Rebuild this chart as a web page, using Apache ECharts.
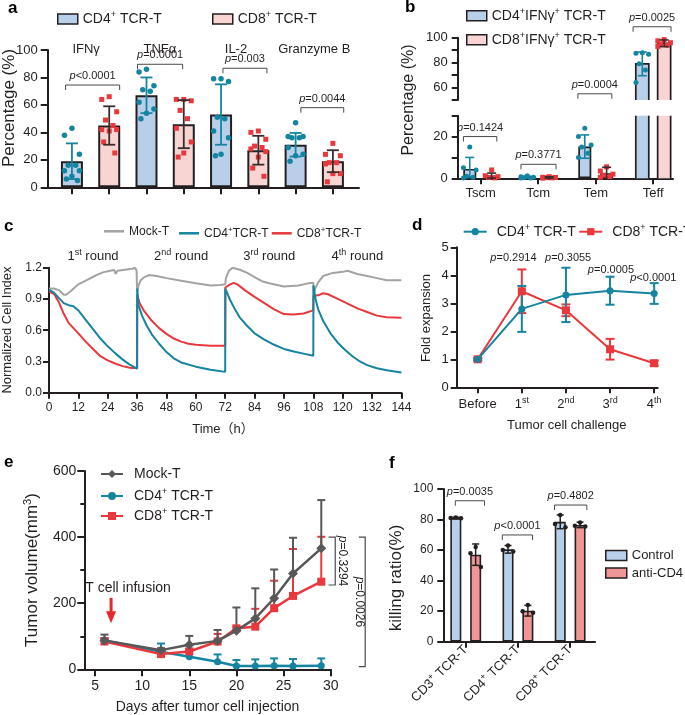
<!DOCTYPE html>
<html>
<head>
<meta charset="utf-8">
<title>Figure</title>
<script src="https://cdn.jsdelivr.net/npm/echarts@6.0.0/dist/echarts.min.js"></script>
<style>
html,body{margin:0;padding:0;background:#ffffff;}
#chart{width:685px;height:715px;}
</style>
</head>
<body>
<div id="chart"></div>
<script>
// ======================= DATA =======================
// Panel a
const aCategories = ['IFNγ', 'TNFα', 'IL-2', 'Granzyme B'];
const aCD4Mean = [19, 67, 53, 31];
const aCD4SD = [13, 13, 22, 8.6];
const aCD8Mean = [45, 46, 27, 19];
const aCD8SD = [14, 17.5, 10.5, 8];
const aCD4Dots = [[43, 38, 24, 16, 16, 12, 12, 8, 6, 5], [86, 84, 74, 71, 70, 62, 57, 54, 50], [79, 79, 77, 51, 50, 41, 36, 24, 23], [47, 37, 37, 36, 36, 29, 24, 23, 19]];
const aCD8Dots = [[66, 64, 55, 49, 45, 42, 42, 41, 33, 25], [64, 64, 63, 56, 50, 43, 33, 25, 22], [41, 40, 35, 30, 29, 28, 26, 22, 14, 8], [32, 24, 23, 18, 18, 17, 10, 10, 4]];
const aPValues = ['p<0.0001', 'p=0.0001', 'p=0.003', 'p=0.0044'];
const aPHeight = [74.5, 89.6, 86.7, 58];

// Panel b
const bCategories = ['Tscm', 'Tcm', 'Tem', 'Teff'];
const bCD4Mean = [4.5, 0.5, 15.2, 79];
const bCD4SD = [5.5, 0.4, 5.6, 9.5];
const bCD8Mean = [1.3, 0.4, 2.4, 95.5];
const bCD8SD = [1.2, 0.3, 2.9, 2.7];
const bCD4Dots = [[15, 5, 4, 1, 0.5, 0.2], [1.2, 0.8, 0.5, 0.3, 0.2, 0.1], [24, 20, 16, 15, 12, 10], [88, 87.5, 86.8, 79, 74, 64]];
const bCD8Dots = [[4, 1.2, 0.8, 0.4, 0.2], [0.8, 0.5, 0.4, 0.3, 0.2, 0.1], [5.5, 3.5, 2, 1.5, 0.8, 0.5], [98.5, 97.5, 96, 95, 94, 93]];
const bPValues = ['p=0.1424', 'p=0.3771', 'p=0.0004', 'p=0.0025'];
const bPHeight = [20, 6.7, 55, 108.8];

// Panel c (time in h, normalized cell index)
const cMock = [[0,1.00],[2,1.00],[4,0.985],[6,0.94],[7,0.94],[8.6,0.97],[12,1.04],[15.4,1.08],[19.5,1.13],[22,1.155],[25,1.17],[26.7,1.178],[27.2,1.14],[28,1.17],[31,1.18],[34,1.19],[35.2,1.2],[35.8,1.17],[36,0.97],[36.6,1.03],[37.5,1.08],[39,1.11],[41,1.13],[44,1.12],[48,1.10],[54,1.075],[60,1.05],[66,1.03],[70,1.035],[72,1.04],[72.3,1.10],[73.5,1.17],[75,1.20],[78,1.18],[81,1.15],[84,1.11],[87,1.07],[90,1.05],[96,1.02],[102,1.03],[106,1.05],[108,1.055],[108.2,0.96],[109,1.01],[110,1.06],[112,1.12],[116,1.15],[120,1.16],[122,1.17],[126,1.14],[130,1.12],[134,1.10],[138,1.08],[144,1.08]];
const cCD4 = [[0,0.99],[2,0.96],[4,0.91],[6,0.86],[8,0.84],[10,0.83],[12,0.79],[15,0.70],[18,0.61],[21,0.52],[24,0.445],[27,0.38],[30,0.32],[33,0.27],[36,0.23],[36.05,1.0],[36.6,0.84],[38,0.74],[40,0.64],[42,0.56],[45,0.47],[48,0.39],[51,0.33],[54,0.29],[60,0.25],[66,0.22],[72,0.2],[72.05,1.0],[74,0.89],[76,0.80],[78,0.72],[81,0.64],[84,0.57],[88,0.51],[92,0.46],[96,0.42],[100,0.395],[104,0.375],[108,0.355],[108.05,1.03],[109,0.89],[110,0.80],[112,0.69],[115,0.57],[118,0.48],[121,0.41],[124,0.35],[127,0.30],[130,0.265],[134,0.235],[138,0.215],[144,0.195]];
const cCD8 = [[0,0.97],[2,0.95],[4,0.87],[6,0.76],[8,0.67],[10,0.62],[12,0.57],[15,0.49],[18,0.42],[21,0.35],[24,0.31],[27,0.28],[30,0.255],[33,0.24],[36,0.235],[36.05,0.94],[37,0.86],[39,0.78],[42,0.69],[45,0.62],[48,0.565],[51,0.52],[54,0.49],[57,0.47],[60,0.46],[66,0.45],[72,0.45],[72.05,1.01],[74,1.04],[75.5,1.055],[77,1.04],[80,0.985],[84,0.92],[88,0.86],[92,0.80],[96,0.755],[100,0.75],[104,0.76],[108,0.79],[108.05,0.93],[110,0.935],[112,0.955],[114,0.945],[118,0.90],[122,0.855],[126,0.81],[130,0.775],[134,0.74],[138,0.725],[144,0.72]];
const cRounds = ['1st round', '2nd round', '3rd round', '4th round'];

// Panel d
const dCategories = ['Before', '1st', '2nd', '3rd', '4th'];
const dCD4Mean = [1.0, 2.8, 3.3, 3.45, 3.35];
const dCD4SD = [0.04, 0.82, 0.97, 0.5, 0.37];
const dCD8Mean = [1.0, 3.43, 2.75, 1.36, 0.86];
const dCD8SD = [0.04, 0.78, 0.21, 0.37, 0.09];
const dPValues = ['p=0.2914', 'p=0.3055', 'p=0.0005', 'p<0.0001'];

// Panel e
const eDays = [6, 12, 15, 18, 20, 22, 24, 26, 29];
const eMock = [87, 58, 74, 86, 117, 154, 215, 290, 366];
const eMockErr = [18, 6, 27, 33, 70, 91, 87, 108, 146];
const eCD4 = [87, 53, 38, 23, 10, 10, 11, 10, 11];
const eCD4Err = [6, 25, 20, 22, 18, 20, 22, 21, 22];
const eCD8 = [84, 46, 54, 84, 124, 129, 185, 222, 265];
const eCD8Err = [10, 6, 8, 23, 5, 54, 83, 142, 136];
const ePValues = ['p=0.3294', 'p=0.0026'];

// Panel f
const fCategories = ['CD3⁺ TCR-T', 'CD4⁺ TCR-T', 'CD8⁺ TCR-T'];
const fCtrlMean = [81, 60.5, 78.5];
const fCtrlSD = [0.5, 2.5, 4.5];
const fAntiMean = [57, 20.3, 76.5];
const fAntiSD = [7, 3.5, 1.8];
const fCtrlDots = [[81.3, 81, 80.8], [63, 60, 59], [83, 77, 75]];
const fAntiDots = [[62, 58, 49], [24, 20, 19], [78, 76, 75.5]];
const fPValues = ['p=0.0035', 'p<0.0001', 'p=0.4802'];
const fPHeight = [92.3, 69.9, 89.5];

// ======================= STYLE =======================
const FONT = "'Liberation Sans', Arial, Helvetica, 'Noto Sans CJK SC', sans-serif";
const INK = '#231f20';
const TEAL = '#1484a0';
const RED = '#e8383d';
const BLUE_FILL = '#b7cfe8';
const PINK_FILL = '#f8d4d3';
const ANTI_FILL = '#f09696';
const GRAY = '#a3a3a3';
const MOCK = '#585858';
const DARK_ERR = '#3a2c2c';
const BRK = '#4a4a4a';
const JIT = [0, -0.2, 0.2, -0.1, 0.1, -0.2, 0.2, 0, -0.15, 0.15];

// ---------- rich text helpers ----------
function richSet(fs) {
  const sfs = Math.round(fs * 0.66);
  const base = {fontSize: fs, lineHeight: fs + 4, fontFamily: FONT, color: INK, fill: INK};
  return {
    m: base,
    s: {fontSize: sfs, lineHeight: sfs, verticalAlign: 'top', fontFamily: FONT, color: INK, fill: INK},
    i: Object.assign({}, base, {fontStyle: 'italic'})
  };
}
function R(str) {
  let out = '', buf = '';
  const flush = () => { if (buf) { out += '{m|' + buf + '}'; buf = ''; } };
  for (const ch of str) {
    if (ch === '⁺') { flush(); out += '{s|+}'; }
    else if (ch === '³') { flush(); out += '{s|3}'; }
    else buf += ch;
  }
  flush();
  return out;
}
function P(str) { return '{i|p}' + R(str.slice(1)); }
function O(str) {
  const m = /^(\d+)(st|nd|rd|th)(.*)$/.exec(str);
  if (!m) return R(str);
  return '{m|' + m[1] + '}{s|' + m[2] + '}' + (m[3] ? '{m|' + m[3] + '}' : '');
}

// ---------- axes ----------
function axis(o) {
  const ax = {
    type: 'value', gridIndex: o.g, min: o.min, max: o.max,
    show: o.show !== false,
    axisLine: {show: true, onZero: false, lineStyle: {color: INK, width: o.lw || 2}},
    axisTick: {show: o.tick !== false, length: o.tl || 6, inside: false, lineStyle: {color: INK, width: o.lw || 2}},
    axisLabel: {show: o.label !== false, color: INK, fontFamily: FONT, fontSize: o.fs || 13, margin: o.margin || 8, hideOverlap: false},
    splitLine: {show: false}, minorTick: {show: false}, minorSplitLine: {show: false}
  };
  if (o.interval !== undefined) ax.interval = o.interval;
  if (o.ticks) { ax.axisTick.customValues = o.ticks; ax.axisLabel.customValues = o.ticks; }
  if (o.formatter) ax.axisLabel.formatter = o.formatter;
  if (o.rich) ax.axisLabel.rich = o.rich;
  if (o.rotate) ax.axisLabel.rotate = o.rotate;
  if (o.minor) ax.minorTick = {show: true, splitNumber: o.minor, length: 4, lineStyle: {color: INK, width: 2}};
  return ax;
}

// ---------- series builders ----------
function bar(name, ax, data, fill, bw, bdw) {
  return {type: 'bar', name, xAxisIndex: ax, yAxisIndex: ax, data, barWidth: bw, barGap: '-100%',
    itemStyle: {color: fill, borderColor: INK, borderWidth: bdw}, z: 2, silent: true, emphasis: {disabled: true}};
}
// bar crossing an axis break: open on the side(s) where it is cut
function brokenBar(ax, data, fill, bw, bdw, yLo, yHi) {
  return {type: 'custom', xAxisIndex: ax, yAxisIndex: ax, data, encode: {x: 0, y: 1}, z: 2, silent: true, clip: false,
    renderItem: function (params, api) {
      const x = api.value(0), v = api.value(1);
      const top = Math.min(v, yHi), cutTop = v > yHi;
      const pt = api.coord([x, top]), pb = api.coord([x, yLo]);
      const l = pt[0] - bw / 2, r = pt[0] + bw / 2;
      const st = () => ({stroke: INK, lineWidth: bdw, fill: 'none'});
      const ch = [{type: 'rect', shape: {x: l, y: pt[1], width: bw, height: pb[1] - pt[1]}, style: {fill: fill}}];
      if (cutTop) {
        ch.push({type: 'line', shape: {x1: l, y1: pt[1], x2: l, y2: pb[1]}, style: st()});
        ch.push({type: 'line', shape: {x1: r, y1: pt[1], x2: r, y2: pb[1]}, style: st()});
      } else {
        ch.push({type: 'polyline', shape: {points: [[l, pb[1]], [l, pt[1]], [r, pt[1]], [r, pb[1]]]}, style: st()});
      }
      return {type: 'group', children: ch};
    }};
}
function dotData(groups, xOf, scale, keep) {
  const out = [];
  groups.forEach((g, i) => g.forEach((v, j) => { if (!keep || keep(v)) out.push([xOf(i) + JIT[j % JIT.length] * scale, v]); }));
  return out;
}
function dots(ax, data, sym, size, color) {
  return {type: 'scatter', xAxisIndex: ax, yAxisIndex: ax, data, symbol: sym, symbolSize: size,
    itemStyle: {color, opacity: 1}, z: 3, silent: true, emphasis: {disabled: true}};
}
function errRender(color, cap, lw, upperOnly) {
  return function (params, api) {
    const x = api.value(0), m = api.value(1), s = api.value(2);
    const lo = upperOnly ? m : Math.max(0, m - s);
    const pt = api.coord([x, m + s]), pb = api.coord([x, lo]);
    const st = () => ({stroke: color, lineWidth: lw, fill: 'none'});
    const ch = [
      {type: 'line', shape: {x1: pt[0], y1: pt[1], x2: pb[0], y2: pb[1]}, style: st()},
      {type: 'line', shape: {x1: pt[0] - cap, y1: pt[1], x2: pt[0] + cap, y2: pt[1]}, style: st()}
    ];
    if (!upperOnly && m - s > 0) ch.push({type: 'line', shape: {x1: pb[0] - cap, y1: pb[1], x2: pb[0] + cap, y2: pb[1]}, style: st()});
    return {type: 'group', children: ch};
  };
}
function err(ax, data, color, cap, lw, upper, z) {
  return {type: 'custom', xAxisIndex: ax, yAxisIndex: ax, data, encode: {x: 0, y: 1},
    renderItem: errRender(color, cap, lw, upper), z: z || 4, silent: true, clip: false};
}
function bracket(ax, data, labels, fs) {
  return {type: 'custom', xAxisIndex: ax, yAxisIndex: ax, data, encode: {x: [0, 1], y: 2}, z: 5, silent: true, clip: false,
    renderItem: function (params, api) {
      const p1 = api.coord([api.value(0), api.value(2)]), p2 = api.coord([api.value(1), api.value(2)]);
      const leg = 5;
      return {type: 'group', children: [
        {type: 'polyline', shape: {points: [[p1[0], p1[1] + leg], [p1[0], p1[1]], [p2[0], p2[1]], [p2[0], p2[1] + leg]]},
          style: {stroke: BRK, lineWidth: 1, fill: 'none'}},
        {type: 'text', x: (p1[0] + p2[0]) / 2, y: p1[1] - 1.5,
          style: {text: P(labels[params.dataIndex]), rich: richSet(fs), align: 'center', verticalAlign: 'bottom',
            textAlign: 'center', textVerticalAlign: 'bottom', fill: INK}}
      ]};
    }};
}
function textSeries(ax, data, labels, fs, conv, opts) {
  opts = opts || {};
  return {type: 'custom', xAxisIndex: ax, yAxisIndex: ax, data, encode: {x: 0, y: 1}, z: 6, silent: true, clip: false,
    renderItem: function (params, api) {
      const p = api.coord([api.value(0), api.value(1)]);
      return {type: 'text', x: p[0], y: p[1], rotation: opts.rot || 0,
        style: {text: conv(labels[params.dataIndex]), rich: richSet(fs), align: opts.align || 'center', verticalAlign: 'middle',
          textAlign: opts.align || 'center', textVerticalAlign: 'middle', fill: INK}};
    }};
}

// ======================= LAYOUT =======================
const grids = [
  {left: 47.7, top: 50, width: 311.3, height: 137.3},     // a
  {left: 457.7, top: 37.7, width: 215.3, height: 62.3},   // b upper
  {left: 457.7, top: 115.7, width: 215.3, height: 62.6},  // b lower
  {left: 49, top: 267.7, width: 352.4, height: 125},      // c
  {left: 456.7, top: 247.3, width: 201, height: 140},     // d
  {left: 84.3, top: 471, width: 246.4, height: 198.3},    // e
  {left: 443.3, top: 489, width: 151.7, height: 152.7}    // f
].map(g => Object.assign({containLabel: false, outerBoundsMode: 'none'}, g));

const B_UP = [50, 100], B_LOW = [0, 30];
const xAxes = [
  axis({g: 0, min: -0.65, max: 7.70, ticks: [0, 1, 2, 3, 4, 5, 6, 7], label: false, tl: 7}),
  axis({g: 1, min: -0.4, max: 3.344, show: false}),
  axis({g: 2, min: -0.4, max: 3.344, ticks: [0, 1, 2, 3], tl: 6, fs: 13, margin: 9, formatter: v => bCategories[Math.round(v)]}),
  axis({g: 3, min: 0, max: 144, interval: 12, fs: 12, margin: 9, tl: 6}),
  axis({g: 4, min: -0.476, max: 4.08, ticks: [0, 1, 2, 3, 4], tl: 6, fs: 13, margin: 9, rich: richSet(13), formatter: v => O(dCategories[Math.round(v)])}),
  axis({g: 5, min: 3.86, max: 30, ticks: [5, 10, 15, 20, 25, 30], tl: 7, fs: 14, margin: 10}),
  axis({g: 6, min: -0.43, max: 2.476, ticks: [0, 1, 2], tl: 6, fs: 13, margin: 6, rotate: 45, rich: richSet(13), formatter: v => R(fCategories[Math.round(v)])})
];
const yAxes = [
  axis({g: 0, min: 0, max: 100, interval: 20, fs: 13, margin: 10, tl: 7}),
  axis({g: 1, min: B_UP[0], max: B_UP[1], interval: 10, fs: 13, margin: 10, tl: 6, formatter: v => (v % 20 === 0 && v > 50) ? String(v) : ''}),
  axis({g: 2, min: B_LOW[0], max: B_LOW[1], interval: 10, fs: 13, margin: 10, tl: 6, formatter: v => (v % 20 === 0) ? String(v) : ''}),
  axis({g: 3, min: 0, max: 1.2, interval: 0.3, fs: 12, margin: 7, tl: 6, formatter: v => v.toFixed(1)}),
  axis({g: 4, min: 0, max: 5, interval: 1, fs: 13, margin: 8, tl: 6}),
  axis({g: 5, min: 0, max: 600, interval: 200, fs: 14, margin: 8, tl: 7, minor: 2}),
  axis({g: 6, min: 0, max: 100, interval: 20, fs: 12, margin: 10, tl: 6})
];

// ======================= SERIES =======================
const series = [];
// ---- a ----
series.push(bar('aCD4', 0, aCD4Mean.map((v, i) => [2 * i, v]), BLUE_FILL, 22, 2));
series.push(bar('aCD8', 0, aCD8Mean.map((v, i) => [2 * i + 1, v]), PINK_FILL, 22, 2));
series.push(dots(0, dotData(aCD4Dots, i => 2 * i, 1), 'circle', 5.5, TEAL));
series.push(dots(0, dotData(aCD8Dots, i => 2 * i + 1, 1), 'rect', 5, RED));
series.push(err(0, aCD4Mean.map((v, i) => [2 * i, v, aCD4SD[i]]), TEAL, 6, 1.8, false));
series.push(err(0, aCD8Mean.map((v, i) => [2 * i + 1, v, aCD8SD[i]]), DARK_ERR, 6, 1.8, false));
const aBrkSpan = [[-0.17, 1.28], [1.76, 2.97], [4.05, 5.23], [6.14, 7.29]];
series.push(bracket(0, aPHeight.map((h, i) => [aBrkSpan[i][0], aBrkSpan[i][1], h]), aPValues, 11));
const aCatShift = [-0.12, -0.14, -0.1, 0];
series.push(textSeries(0, aCategories.map((c, i) => [2 * i + 0.5 + aCatShift[i], 100.7]), aCategories, 13, R));

// ---- b (broken y axis) ----
const bOff = 0.19;
const b4 = bCD4Mean.map((v, i) => [i - bOff, v]);
const b8 = bCD8Mean.map((v, i) => [i + bOff, v]);
series.push(bar('bCD4l', 2, b4.filter(d => d[1] <= B_LOW[1]), BLUE_FILL, 13, 1.7));
series.push(bar('bCD8l', 2, b8.filter(d => d[1] <= B_LOW[1]), PINK_FILL, 13, 1.7));
series.push(brokenBar(2, b4.filter(d => d[1] > B_LOW[1]), BLUE_FILL, 13, 1.7, B_LOW[0], B_LOW[1]));
series.push(brokenBar(2, b8.filter(d => d[1] > B_LOW[1]), PINK_FILL, 13, 1.7, B_LOW[0], B_LOW[1]));
series.push(brokenBar(1, b4.filter(d => d[1] > B_UP[0]), BLUE_FILL, 13, 1.7, B_UP[0], B_UP[1]));
series.push(brokenBar(1, b8.filter(d => d[1] > B_UP[0]), PINK_FILL, 13, 1.7, B_UP[0], B_UP[1]));
const isUp = v => v >= 40, isLow = v => v < 40;
series.push(dots(1, dotData(bCD4Dots, i => i - bOff, 0.55, isUp), 'circle', 5, TEAL));
series.push(dots(1, dotData(bCD8Dots, i => i + bOff, 0.55, isUp), 'rect', 5, RED));
series.push(dots(2, dotData(bCD4Dots, i => i - bOff, 0.55, isLow), 'circle', 5, TEAL));
series.push(dots(2, dotData(bCD8Dots, i => i + bOff, 0.55, isLow), 'rect', 5, RED));
const bErr4 = bCD4Mean.map((v, i) => [i - bOff, v, bCD4SD[i]]);
const bErr8 = bCD8Mean.map((v, i) => [i + bOff, v, bCD8SD[i]]);
series.push(err(1, bErr4.filter(d => d[1] >= 40), TEAL, 4.5, 1.6, false));
series.push(err(1, bErr8.filter(d => d[1] >= 40), DARK_ERR, 4.5, 1.6, false));
series.push(err(2, bErr4.filter(d => d[1] < 40), TEAL, 4.5, 1.6, false));
series.push(err(2, bErr8.filter(d => d[1] < 40), DARK_ERR, 4.5, 1.6, false));
const bBrkSpan = [[-0.3, 0.28], [-0.3, 0.31], [-0.31, 0.28], [-0.35, 0.31]];
const bBrk = bPHeight.map((h, i) => [i + bBrkSpan[i][0], i + bBrkSpan[i][1], h]);
series.push(bracket(2, bBrk.slice(0, 2), bPValues.slice(0, 2), 11));
series.push(bracket(1, bBrk.slice(2), bPValues.slice(2), 11));

// ---- c ----
series.push({type: 'line', name: 'cMock', xAxisIndex: 3, yAxisIndex: 3, data: cMock, symbol: 'none', lineStyle: {color: GRAY, width: 2}, itemStyle: {color: GRAY}, z: 2, silent: true});
series.push({type: 'line', name: 'cCD8', xAxisIndex: 3, yAxisIndex: 3, data: cCD8, symbol: 'none', lineStyle: {color: RED, width: 2}, itemStyle: {color: RED}, z: 3, silent: true});
series.push({type: 'line', name: 'cCD4', xAxisIndex: 3, yAxisIndex: 3, data: cCD4, symbol: 'none', lineStyle: {color: TEAL, width: 2}, itemStyle: {color: TEAL}, z: 4, silent: true});
series.push(textSeries(3, cRounds.map((r, i) => [18 + 36 * i, 1.305]), cRounds, 13, O));

// ---- d ----
series.push(err(4, dCD8Mean.map((v, i) => [i, v, dCD8SD[i]]), RED, 4.5, 2, false, 2));
series.push(err(4, dCD4Mean.map((v, i) => [i, v, dCD4SD[i]]), TEAL, 4.5, 2, false, 2));
series.push({type: 'line', name: 'dCD8', xAxisIndex: 4, yAxisIndex: 4, data: dCD8Mean.map((v, i) => [i, v]), symbol: 'rect', symbolSize: 8, lineStyle: {color: RED, width: 2}, itemStyle: {color: RED}, z: 3, silent: true});
series.push({type: 'line', name: 'dCD4', xAxisIndex: 4, yAxisIndex: 4, data: dCD4Mean.map((v, i) => [i, v]), symbol: 'circle', symbolSize: 7, lineStyle: {color: TEAL, width: 2}, itemStyle: {color: TEAL}, z: 4, silent: true});
const dPPos = [[0.81, 4.61], [2.05, 4.63], [3.02, 4.19], [3.98, 3.91]];
series.push(textSeries(4, dPPos, dPValues, 11, P));

// ---- e ----
series.push(err(5, eDays.map((d, i) => [d, eCD4[i], eCD4Err[i]]), TEAL, 4, 2, true, 2));
series.push(err(5, eDays.map((d, i) => [d, eCD8[i], eCD8Err[i]]), RED, 4, 2, true, 2));
series.push(err(5, eDays.map((d, i) => [d, eMock[i], eMockErr[i]]), MOCK, 4, 2, true, 2));
series.push({type: 'line', name: 'eCD4', xAxisIndex: 5, yAxisIndex: 5, data: eDays.map((d, i) => [d, eCD4[i]]), symbol: 'circle', symbolSize: 7, lineStyle: {color: TEAL, width: 2.5}, itemStyle: {color: TEAL}, z: 3, silent: true});
series.push({type: 'line', name: 'eCD8', xAxisIndex: 5, yAxisIndex: 5, data: eDays.map((d, i) => [d, eCD8[i]]), symbol: 'rect', symbolSize: 8, lineStyle: {color: RED, width: 2.5}, itemStyle: {color: RED}, z: 4, silent: true});
series.push({type: 'line', name: 'eMock', xAxisIndex: 5, yAxisIndex: 5, data: eDays.map((d, i) => [d, eMock[i]]), symbol: 'diamond', symbolSize: 10, lineStyle: {color: MOCK, width: 2.5}, itemStyle: {color: MOCK}, z: 5, silent: true});
// infusion arrow + label
series.push({type: 'custom', xAxisIndex: 5, yAxisIndex: 5, data: [[6.7, 216, 139]], encode: {x: 0, y: 1}, z: 6, silent: true, clip: false,
  renderItem: function (params, api) {
    const a = api.coord([api.value(0), api.value(1)]), b = api.coord([api.value(0), api.value(2)]);
    const headH = 12, headW = 5;
    return {type: 'group', children: [
      {type: 'line', shape: {x1: a[0], y1: a[1], x2: b[0], y2: b[1] - headH + 1}, style: {stroke: '#e8262b', lineWidth: 3}},
      {type: 'polygon', shape: {points: [[b[0] - headW, b[1] - headH], [b[0] + headW, b[1] - headH], [b[0], b[1]]]}, style: {fill: '#e8262b'}}
    ]};
  }});
series.push(textSeries(5, [[8.5, 245]], ['T cell infusion'], 14, R));
// vertical brackets
const eBrk = [[30.48, 400, 255], [33.66, 400, 8]];
const eBrkText = [7.5, -5.5];
const eBrkTick = [6.7, 6.4];
series.push({type: 'custom', xAxisIndex: 5, yAxisIndex: 5, data: eBrk, encode: {x: 0, y: [1, 2]}, z: 6, silent: true, clip: false,
  renderItem: function (params, api) {
    const i = params.dataIndex;
    const t = api.coord([api.value(0), api.value(1)]), b = api.coord([api.value(0), api.value(2)]);
    const tk = eBrkTick[i];
    return {type: 'group', children: [
      {type: 'polyline', shape: {points: [[t[0] - tk, t[1]], [t[0], t[1]], [b[0], b[1]], [b[0] - tk, b[1]]]}, style: {stroke: BRK, lineWidth: 1.2, fill: 'none'}},
      {type: 'text', x: t[0] + eBrkText[i], y: (t[1] + b[1]) / 2, rotation: -Math.PI / 2,
        style: {text: P(ePValues[i]), rich: richSet(12), align: 'center', verticalAlign: 'middle', textAlign: 'center', textVerticalAlign: 'middle', fill: INK}}
    ]};
  }});

// ---- f ----
const fOff = 0.19;
series.push(bar('fCtrl', 6, fCtrlMean.map((v, i) => [i - fOff, v]), BLUE_FILL, 11, 1.6));
series.push(bar('fAnti', 6, fAntiMean.map((v, i) => [i + fOff, v]), ANTI_FILL, 11, 1.6));
series.push(dots(6, dotData(fCtrlDots, i => i - fOff, 0.5), 'circle', 4.5, INK));
series.push(dots(6, dotData(fAntiDots, i => i + fOff, 0.5), 'circle', 4.5, INK));
series.push(err(6, fCtrlMean.map((v, i) => [i - fOff, v, fCtrlSD[i]]), INK, 3.5, 1.5, false));
series.push(err(6, fAntiMean.map((v, i) => [i + fOff, v, fAntiSD[i]]), INK, 3.5, 1.5, false));
const fBrkSpan = [[-0.2, 0.36], [-0.3, 0.28], [-0.3, 0.32]];
series.push(bracket(6, fPHeight.map((h, i) => [i + fBrkSpan[i][0], i + fBrkSpan[i][1], h]), fPValues, 11));

// ======================= LEGENDS =======================
const LEGEND_TEXT = {
  aCD4: 'CD4⁺ TCR-T', aCD8: 'CD8⁺ TCR-T',
  bCD4l: 'CD4⁺IFNγ⁺ TCR-T', bCD8l: 'CD8⁺IFNγ⁺ TCR-T',
  cMock: 'Mock-T', cCD4: 'CD4⁺TCR-T', cCD8: 'CD8⁺TCR-T',
  dCD4: 'CD4⁺ TCR-T', dCD8: 'CD8⁺ TCR-T',
  eMock: 'Mock-T', eCD4: 'CD4⁺ TCR-T', eCD8: 'CD8⁺ TCR-T',
  fCtrl: 'Control', fAnti: 'anti-CD4'
};
function leg(name, left, cy, o) {
  const fs = o.fs;
  const l = {show: true, data: [o.icon ? {name, icon: o.icon} : name], left, top: cy - (fs + 4) / 2, orient: 'horizontal', padding: 0, itemGap: 0,
    itemWidth: o.w, itemHeight: o.h, selectedMode: false, formatter: n => R(LEGEND_TEXT[n]),
    textStyle: {color: INK, fontFamily: FONT, fontSize: fs, rich: richSet(fs), padding: [0, 0, 0, o.pad || 0]}};
  if (o.box) l.itemStyle = {borderColor: INK, borderWidth: 1.5};
  if (o.flat) l.itemStyle = {borderWidth: 0};
  return l;
}
const legends = [
  leg('aCD4', 57, 19, {fs: 14, w: 20, h: 10, icon: 'rect', box: true}),
  leg('aCD8', 212, 19, {fs: 14, w: 20, h: 10, icon: 'rect', box: true}),
  leg('bCD4l', 466, 15.7, {fs: 14, w: 20, h: 10, icon: 'rect', box: true}),
  leg('bCD8l', 466, 39.7, {fs: 14, w: 20, h: 10, icon: 'rect', box: true}),
  leg('cMock', 104, 233.3, {fs: 12, w: 20, h: 2.5, icon: 'rect', flat: true}),
  leg('cCD4', 179, 233.3, {fs: 12, w: 20, h: 2.5, icon: 'rect', flat: true}),
  leg('cCD8', 271.7, 233.3, {fs: 12, w: 20, h: 2.5, icon: 'rect', flat: true}),
  leg('dCD4', 462.7, 231.7, {fs: 14, w: 23, h: 9, pad: 5}),
  leg('dCD8', 578.3, 231.7, {fs: 14, w: 23, h: 9, pad: 5}),
  leg('eMock', 100, 476, {fs: 14, w: 22, h: 10, pad: 6}),
  leg('eCD4', 100, 496, {fs: 14, w: 22, h: 10, pad: 6}),
  leg('eCD8', 100, 516, {fs: 14, w: 22, h: 10, pad: 6}),
  leg('fCtrl', 605, 557.5, {fs: 13, w: 21, h: 10, icon: 'rect', box: true}),
  leg('fAnti', 605, 575, {fs: 13, w: 21, h: 10, icon: 'rect', box: true})
];

// ======================= TITLES / LETTERS =======================
function gText(text, x, y, fs, rot) {
  return {type: 'text', x, y, rotation: rot || 0, z: 100, silent: true,
    style: {text: R(text), rich: richSet(fs), align: 'center', verticalAlign: 'middle', textAlign: 'center', textVerticalAlign: 'middle', fill: INK}};
}
function letter(t, x, y) {
  return {type: 'text', x, y, z: 100, silent: true,
    style: {text: t, fontSize: 17, fontWeight: 'bold', fontFamily: FONT, fill: '#000', align: 'left', verticalAlign: 'middle', textAlign: 'left', textVerticalAlign: 'middle'}};
}
const V = Math.PI / 2;
const graphics = [
  letter('a', 8, 8), letter('b', 405, 7), letter('c', 4, 226), letter('d', 412, 225), letter('e', 4, 462), letter('f', 389, 463),
  gText('Percentage (%)', 9, 108, 17, V),
  gText('Percentage (%)', 409, 100, 16, V),
  gText('Normalized Cell Index', 7, 330, 13, V),
  gText('Time（h）', 223, 429, 13),
  gText('Fold expansion', 426, 318, 13, V),
  gText('Tumor cell challenge', 566.7, 425, 13),
  gText('Tumor volume(mm³)', 32.5, 570, 17, V),
  gText('Days after tumor cell injection', 207.5, 707.5, 14),
  gText('killing ratio(%)', 396, 578, 17, V)
];

const chart = echarts.init(document.getElementById('chart'), null, {renderer: 'canvas'});
chart.setOption({
  animation: false,
  backgroundColor: '#ffffff',
  textStyle: {fontFamily: FONT},
  grid: grids,
  xAxis: xAxes,
  yAxis: yAxes,
  legend: legends,
  graphic: graphics,
  series: series
});
</script>
</body>
</html>
